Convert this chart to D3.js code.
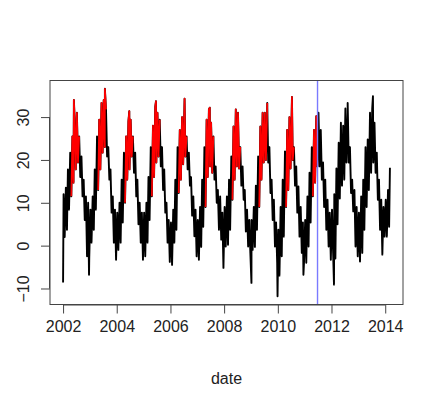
<!DOCTYPE html>
<html>
<head>
<meta charset="utf-8">
<script src="https://cdn.jsdelivr.net/npm/d3@7"></script>
<style>
  body { margin: 0; background: #fff; }
  text { font-family: "Liberation Sans", Arial, sans-serif; fill: #222; }
</style>
</head>
<body>
<div id="chart"></div>
<script>
// monthly band of daily temperatures (high / low per month)
var years = [2002, 2003, 2004, 2005, 2006, 2007, 2008, 2009, 2010, 2011, 2012, 2013, 2014]

var highs = [
    [12, 13.5, 17.8, 21.7, 25.5, 29.4, 31, 25.5, 20.8, 15.4, 11.5, 10]
  , [8.4, 11.5, 17.8, 25.5, 29.4, 33.3, 34, 31.8, 23, 17.8, 11.5, 8.4]
  , [7.7, 10, 15.4, 21.7, 25.5, 29, 29.4, 25.5, 21.7, 15.4, 10, 7.7]
  , [7.7, 10, 16, 23, 28, 32.4, 31, 29.4, 23, 17.8, 10, 6]
  , [5.4, 8.4, 15.4, 23, 27, 30, 31, 25.5, 21.7, 16, 11.5, 8.4]
  , [6, 9, 15.4, 23, 29.4, 31.8, 28.7, 25.5, 18.5, 13, 11.5, 7.7]
  , [9, 11.5, 15.4, 20.8, 27.8, 31.8, 31, 23, 18.5, 13, 8.4, 6]
  , [6, 9, 14, 20.8, 27.8, 31, 31, 31, 23, 15.4, 10.7, 5.4]
  , [3.7, 9, 15.4, 22, 27, 30, 31, 23, 18.5, 13.8, 9, 5.4]
  , [6, 11.5, 17, 23, 27, 30.2, 31, 27, 19.4, 15.4, 10.7, 7.7]
  , [8.4, 12, 18, 24, 28.7, 28, 32, 31, 23, 15.4, 13, 9]
  , [7.7, 11.5, 15.4, 23, 24.8, 31, 32, 28.7, 21.7, 15.4, 10.7, 9]
  , [10.7, 13]
]

var lows = [
    [2, 3.7, 8.4, 11.5, 14.7, 17.8, 19.4, 16, 11.5, 6, -2.5, -3]
  , [0.7, 3.7, 8.4, 13, 17.8, 21.7, 23, 20.8, 15.4, 7.7, 0.7, -3.3]
  , [-1, 0.7, 5.4, 10, 15.4, 17.8, 20.8, 17, 11.5, 5, 0.7, -3.3]
  , [-2.5, 0.7, 6, 11.5, 16, 19.4, 20.8, 18.5, 13, 7.7, 0.7, -3.8]
  , [-4.5, 0.7, 3.7, 12.3, 15.4, 19, 20.8, 17.8, 14, 7, 2.2, -2.5]
  , [-3.3, -0.3, 4.4, 9, 16, 18.5, 17, 15.4, 10, 3.7, 1.4, -5.2]
  , [-0.2, 0.2, 3.7, 10.7, 15.4, 18.5, 18, 14, 10.7, 3.3, -0.2, -1.7]
  , [-1, -0.3, 3.7, 9, 15.4, 19.4, 20, 19.4, 12.3, 6, -0.2, -4]
  , [-7, -2.5, 2.1, 9, 13, 18, 20, 14, 7.7, 2.1, -1.7, -4]
  , [-4, -0.2, 5.4, 11.5, 14.7, 18.5, 18.5, 15.4, 9, 3.7, -0.2, -3.3]
  , [-1.7, -3, 5, 11, 14, 15.4, 19.4, 19.4, 12.3, 8, -0.2, -2.5]
  , [-3.7, -1.7, 3.7, 9, 13, 17, 19.4, 17, 10.7, 3.7, -2.1, 2.1]
  , [2.1, 4.4]
]

// single days that stick out of the band
var spikeDates = ['2002-01-01', '2002-05-28', '2002-12-20', '2003-07-24', '2004-06-20',
                  '2005-06-18', '2006-07-12', '2007-06-20', '2009-01-07', '2009-08-10',
                  '2009-12-28', '2010-07-12', '2010-12-15', '2012-02-04', '2012-08-08',
                  '2013-07-18', '2014-03-06']
var spikeValues = [-8.6, 34, -6.8, 36.6, 31.4,
                   33.7, 34.3, 32.2, -8.7, 33.3,
                   -11.8, 34.7, -6.8, -9.1, 33.3,
                   34.9, 18.2]

var summerFrom = [3, 20]   // month index, day
  , summerTo = [7, 15]
  , splitDate = '2011-06-25'
  , xTickYears = [2002, 2004, 2006, 2008, 2010, 2012, 2014]
  , yTicks = [-10, 0, 10, 20, 30]

var w = 432
  , h = 393
  , boxL = 50
  , boxR = 403
  , boxT = 80.5
  , boxB = 304.5
  , parse = d3.timeParse('%Y-%m-%d')
  , split = parse(splitDate)

var data = []
years.forEach(function(yr, i){
  highs[i].forEach(function(v, m){
    data.push({date: new Date(yr, m, 8), value: v})
    data.push({date: new Date(yr, m, 23), value: lows[i][m]})
  })
})
spikeDates.forEach(function(s, i){
  data.push({date: parse(s), value: spikeValues[i]})
})
data.sort(function(a, b){ return a.date - b.date })
data.forEach(function(d){
  var yr = d.date.getFullYear()
  d.red = d.date >= new Date(yr, summerFrom[0], summerFrom[1])
    && d.date <= new Date(yr, summerTo[0], summerTo[1])
    && d.date < split
})

// R style: pad data range by 4% on each side
function pad(ext){
  var r = ext[1] - ext[0]
  return [ext[0] - r * 0.04, ext[1] + r * 0.04]
}

var xExt = pad(d3.extent(data, function(d){ return +d.date }))
  , yExt = pad(d3.extent(data, function(d){ return d.value }))
  , x = d3.scaleTime().domain([new Date(xExt[0]), new Date(xExt[1])]).range([boxL, boxR])
  , y = d3.scaleLinear().domain(yExt).range([boxB, boxT])

var svg = d3.select('#chart').append('svg')
  .attr('width', w).attr('height', h)

svg.append('rect').attr('width', w).attr('height', h).attr('fill', '#fff')

var line = d3.line()
  .x(function(d){ return x(d.date) })
  .y(function(d){ return y(d.value) })

svg.append('path').datum(data)
  .attr('d', line)
  .attr('fill', 'none').attr('stroke', '#000')
  .attr('stroke-width', 1.9).attr('stroke-linejoin', 'round')

svg.append('path').datum(data)
  .attr('d', line.defined(function(d){ return d.red }))
  .attr('fill', 'none').attr('stroke', '#ff0000')
  .attr('stroke-width', 1.7).attr('stroke-linejoin', 'round')

svg.append('line')
  .attr('x1', x(split)).attr('x2', x(split))
  .attr('y1', boxT).attr('y2', boxB)
  .attr('stroke', '#7a7aff').attr('stroke-width', 1.4)

// box
svg.append('rect')
  .attr('x', boxL).attr('y', boxT)
  .attr('width', boxR - boxL).attr('height', boxB - boxT)
  .attr('fill', 'none').attr('stroke', '#444').attr('stroke-width', 1)

var xAxis = d3.axisBottom(x)
  .tickValues(xTickYears.map(function(yr){ return new Date(yr, 0, 1) }))
  .tickFormat(d3.timeFormat('%Y'))
  .tickSize(9).tickPadding(7)

var gx = svg.append('g')
  .attr('transform', 'translate(0,' + boxB + ')')
  .call(xAxis)

var yAxis = d3.axisLeft(y)
  .tickValues(yTicks)
  .tickSize(9)

var gy = svg.append('g')
  .attr('transform', 'translate(' + boxL + ',0)')
  .call(yAxis)

gy.selectAll('.tick text')
  .attr('x', null).attr('dy', null)
  .attr('text-anchor', 'middle')
  .attr('transform', 'translate(-21.5,0) rotate(-90)')

gx.select('.domain').attr('d', 'M' + x(new Date(xTickYears[0], 0, 1)) + ',0.5H' + x(new Date(xTickYears[xTickYears.length - 1], 0, 1)))
gy.select('.domain').attr('d', 'M-0.5,' + y(yTicks[0]) + 'V' + y(yTicks[yTicks.length - 1]))

svg.selectAll('.domain, .tick line').attr('stroke', '#444')
svg.selectAll('.tick text')
  .attr('fill', '#333')
  .style('font-family', '"Liberation Sans", Arial, sans-serif')
  .style('font-size', '16px')

svg.append('text')
  .attr('x', (boxL + boxR) / 2).attr('y', 384)
  .attr('text-anchor', 'middle')
  .attr('fill', '#333')
  .style('font-size', '16px')
  .text('date')
</script>
</body>
</html>
